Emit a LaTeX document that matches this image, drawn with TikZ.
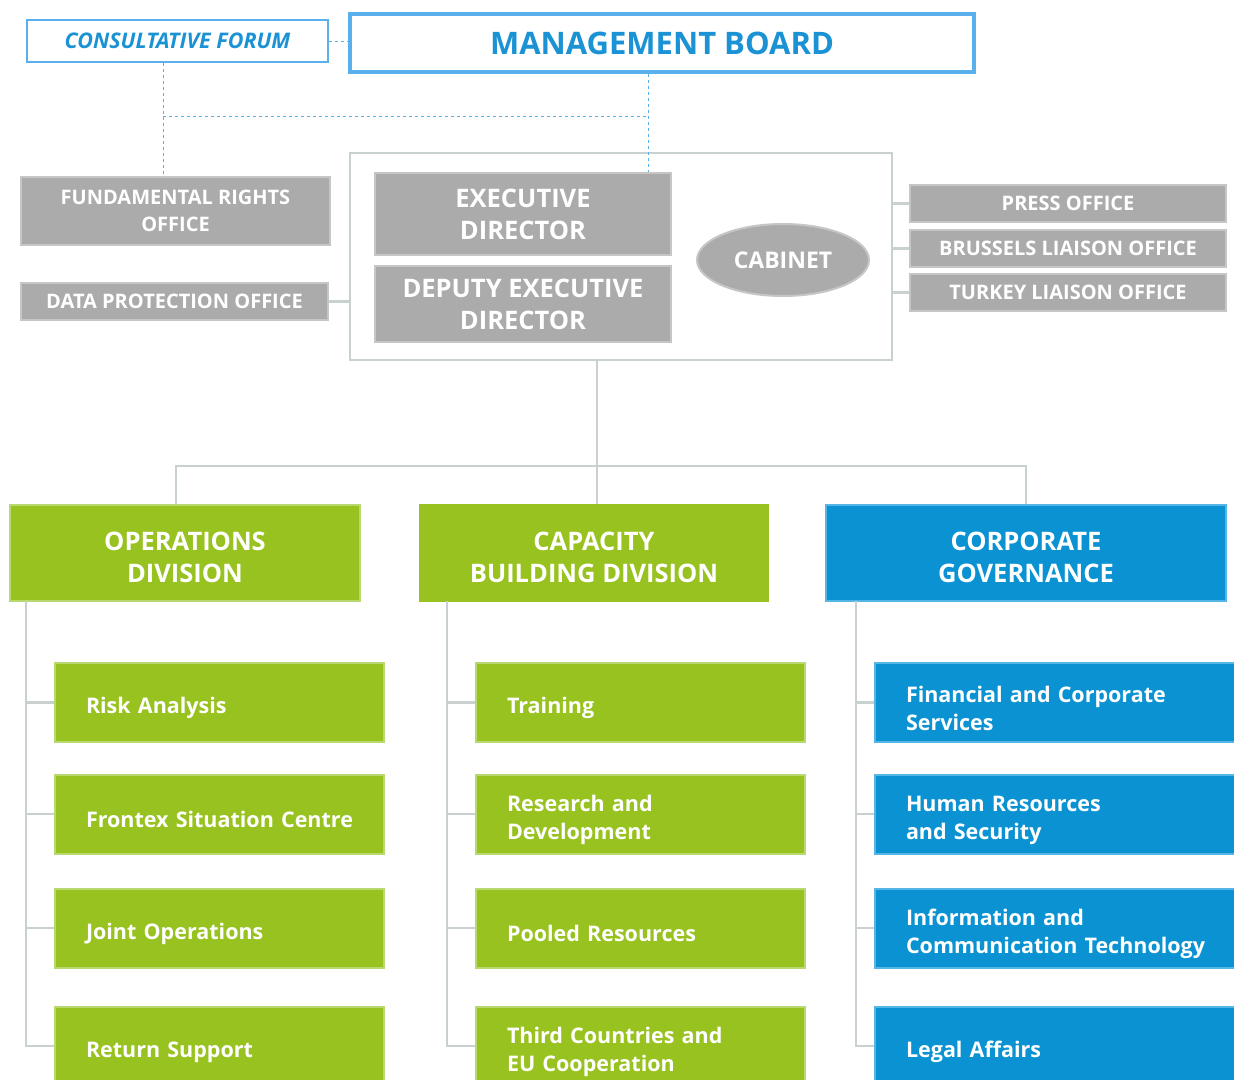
\documentclass[tikz,border=0pt]{standalone}
\usepackage{fontspec}
\setmainfont{Open Sans}
\usetikzlibrary{shapes.geometric}

\definecolor{boardblue}{HTML}{5AB0EA}
\definecolor{textblue}{HTML}{1A92D4}
\definecolor{officegray}{HTML}{ABABAB}
\definecolor{officeedge}{HTML}{C6C6C6}
\definecolor{linegray}{HTML}{C8D0D0}
\definecolor{opsgreen}{HTML}{98C21F}
\definecolor{greenedge}{HTML}{B8D870}
\definecolor{corpblue}{HTML}{0A92D2}
\definecolor{blueedge}{HTML}{55B5E5}

\begin{document}
\begin{tikzpicture}[x=1pt,y=-1pt,
    office/.style={draw=officeedge,line width=2pt,fill=officegray,text=white,
        align=center,inner sep=0pt,font=\bfseries\fontsize{20}{27}\selectfont},
    chief/.style={office,font=\bfseries\fontsize{25.5}{32}\selectfont},
    division/.style={line width=2pt,text=white,align=center,inner sep=0pt,
        minimum height=96,text height=60pt,font=\bfseries\fontsize{25.5}{32}\selectfont},
    unit/.style={line width=2pt,text=white,align=left,inner xsep=31pt,inner ysep=0pt,
        minimum height=79,text height=28pt,font=\bfseries\fontsize{21.5}{28.5}\selectfont},
    greenunit/.style={unit,fill=opsgreen,draw=greenedge,text width=267pt},
    blueunit/.style={unit,fill=corpblue,draw=blueedge,text width=343pt},
    link/.style={draw=linegray,line width=2.5pt},
    dashline/.style={draw=boardblue,line width=1pt,dashed}]

    \useasboundingbox (0,0) rectangle (1234,1079);
    \clip (0,0) rectangle (1234,1079);

    % board and forum
    \node[draw=boardblue,line width=4pt,minimum width=624,minimum height=58,inner sep=0pt,
        text=textblue,font=\bfseries\fontsize{31}{34}\selectfont] (board) at (662,43) {MANAGEMENT BOARD};
    \node[draw=boardblue,line width=1.5pt,minimum width=301,minimum height=42,inner sep=0pt,
        text=textblue,font=\bfseries\itshape\fontsize{21.5}{24}\selectfont] (forum) at (177.5,41) {CONSULTATIVE FORUM};

    % executive block
    \node[draw=linegray,line width=2pt,minimum width=542,minimum height=207] (exec) at (621,256.5) {};
    \node[chief,minimum width=296,minimum height=82] (ed) at (523,214) {EXECUTIVE\\DIRECTOR};
    \node[chief,minimum width=296,minimum height=76] (ded) at (523,304) {DEPUTY EXECUTIVE\\DIRECTOR};
    \node[office,ellipse,minimum width=172,minimum height=72,
        font=\bfseries\fontsize{23}{26}\selectfont] (cabinet) at (783,260) {CABINET};

    % offices
    \node[office,minimum width=309,minimum height=68] (rights) at (175.5,211) {FUNDAMENTAL RIGHTS\\OFFICE};
    \node[office,minimum width=307,minimum height=37] (dataprot) at (174.5,301.5) {DATA PROTECTION OFFICE};
    \node[office,minimum width=316,minimum height=37] (press) at (1068,203.5) {PRESS OFFICE};
    \node[office,minimum width=316,minimum height=37] (brussels) at (1068,248.5) {BRUSSELS LIAISON OFFICE};
    \node[office,minimum width=316,minimum height=37] (turkey) at (1068,292.5) {TURKEY LIAISON OFFICE};

    % divisions
    \node[division,fill=opsgreen,draw=greenedge,minimum width=350] (ops) at (185,553) {OPERATIONS\\DIVISION};
    \node[division,fill=opsgreen,draw=opsgreen,minimum width=348] (cbd) at (594,553) {CAPACITY\\BUILDING DIVISION};
    \node[division,fill=corpblue,draw=blueedge,minimum width=400] (corp) at (1026,553) {CORPORATE\\GOVERNANCE};

    % units
    \node[greenunit] (risk) at (219.5,702.5) {Risk Analysis};
    \node[greenunit] (situation) at (219.5,814) {\mbox{Frontex Situation Centre}};
    \node[greenunit] (jointops) at (219.5,928) {Joint Operations};
    \node[greenunit] (returns) at (219.5,1046) {Return Support};

    \node[greenunit] (training) at (640.5,702.5) {Training};
    \node[greenunit] (research) at (640.5,814) {Research and\\Development};
    \node[greenunit] (pooled) at (640.5,928) {Pooled Resources};
    \node[greenunit] (thirdc) at (640.5,1046) {Third Countries and\\EU Cooperation};

    \node[blueunit] (finance) at (1077.5,702.5) {Financial and Corporate\\Services};
    \node[blueunit] (hr) at (1077.5,814) {Human Resources\\and Security};
    \node[blueunit] (ict) at (1077.5,928) {Information and\\Communication Technology};
    \node[blueunit] (legal) at (1077.5,1046) {Legal Affairs};

    % dashed links
    \coordinate (forumdrop) at (163,116);
    \coordinate (boarddrop) at (648,116);
    \draw[dashline] (forum.east) -- (board.west |- forum.east);
    \draw[dashline] (forumdrop |- forum.south) -- (forumdrop |- rights.north);
    \draw[dashline] (forumdrop) -- (boarddrop);
    \draw[dashline] (boarddrop |- board.south) -- (boarddrop |- ed.north);

    % office links
    \draw[link] (dataprot.east) -- (exec.west |- dataprot.east);
    \draw[link] (exec.east |- press.west) -- (press.west);
    \draw[link] (exec.east |- brussels.west) -- (brussels.west);
    \draw[link] (exec.east |- turkey.west) -- (turkey.west);

    % division links
    \coordinate (hub) at (597,466);
    \draw[link] (hub |- exec.south) -- (hub |- cbd.north);
    \draw[link] ([xshift=-9]ops.north) |- (hub) -| (corp.north);

    % unit links
    \foreach \u in {risk,situation,jointops,returns}
        \draw[link] (26,601) |- (\u.west);
    \foreach \u in {training,research,pooled,thirdc}
        \draw[link] (447,601) |- (\u.west);
    \foreach \u in {finance,hr,ict,legal}
        \draw[link] (856,601) |- (\u.west);
\end{tikzpicture}
\end{document}
